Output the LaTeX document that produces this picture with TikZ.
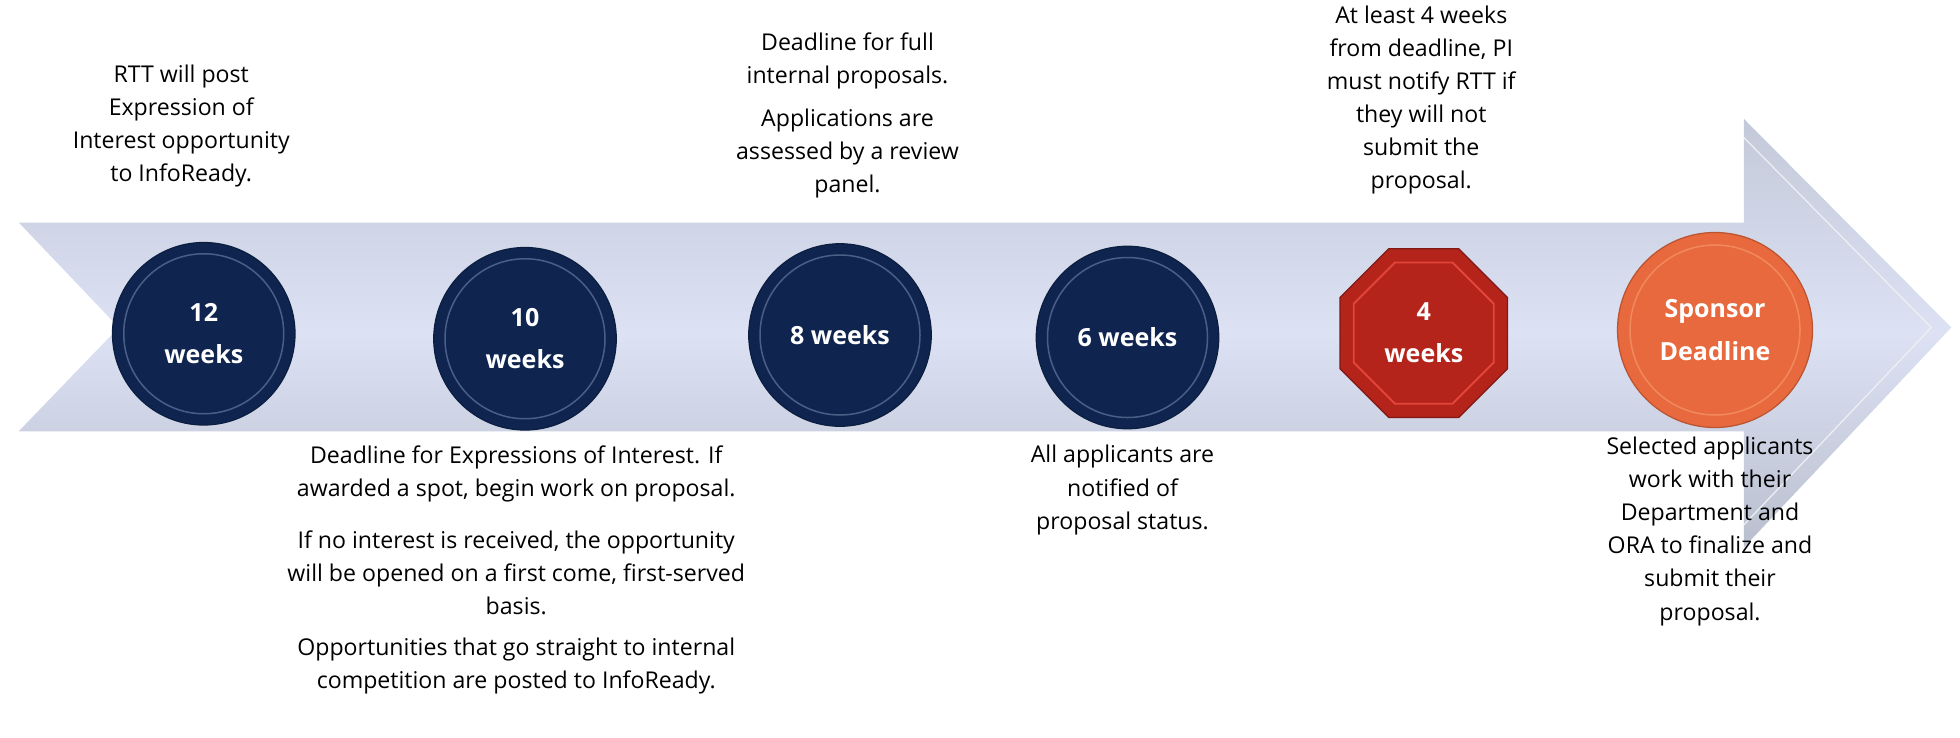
\documentclass[tikz,border=0pt]{standalone}
\usepackage{fontspec}
\setmainfont{Open Sans}
\usetikzlibrary{shapes.geometric}
\definecolor{navy}{HTML}{0F2550}
\definecolor{navyrim}{HTML}{4A5F85}
\definecolor{stopred}{HTML}{B5241B}
\definecolor{stoprim}{HTML}{E2453A}
\definecolor{orng}{HTML}{E8693D}
\definecolor{orngrim}{HTML}{F08A5E}
\definecolor{bandA}{HTML}{C3C9D8}
\definecolor{bandB}{HTML}{DCE2F4}
\begin{document}
\begin{tikzpicture}[x=1pt,y=-1pt,
  txt/.style={align=center,font=\fontsize{18.5}{26.5}\selectfont,inner sep=0pt},
  lbl/.style={align=center,text=white,font=\bfseries\fontsize{20}{34}\selectfont},
  ball/.style={circle,fill=navy,draw=navy!80!black,line width=1pt,minimum size=146pt},
  rim/.style={draw=navyrim,line width=1.2pt}]
\useasboundingbox (0,0) rectangle (1568,590);
% arrow band
\shade[top color=bandA,bottom color=bandA!95!black,middle color=bandB]
  (15,178) -- (1395,178) -- (1395,95) -- (1561,262) -- (1395,438) -- (1395,345) -- (15,345) -- (95,262) -- cycle;
\draw[white!70!bandA,line width=1pt] (1395,110) -- (1545,262) -- (1395,420);
% circles
\node[ball] (w12) at (163,267) {};
\draw[rim] (163,267) circle (64);
\node[lbl] at (w12) {12\\weeks};
\node[ball] (w10) at (420,271) {};
\draw[rim] (420,271) circle (64);
\node[lbl] at (w10) {10\\weeks};
\node[ball] (w8) at (672,268) {};
\draw[rim] (672,268) circle (64);
\node[lbl] at (w8) {8 weeks};
\node[ball] (w6) at (902,270) {};
\draw[rim] (902,270) circle (64);
\node[lbl] at (w6) {6 weeks};
% octagon
\fill[stopred,draw=stopred!70!black,line width=1pt]
  (1111,199) -- (1167,199) -- (1206,238) -- (1206,295) -- (1167,334) -- (1111,334) -- (1072,295) -- (1072,238) -- cycle;
\draw[stoprim,line width=1.5pt]
  (1116,210) -- (1162,210) -- (1195,243) -- (1195,290) -- (1162,323) -- (1116,323) -- (1083,290) -- (1083,243) -- cycle;
\node[lbl] (w4) at (1139,266) {4\\weeks};
% orange
\node[circle,fill=orng,draw=orng!80!black,line width=1pt,minimum size=156pt] (sd) at (1372,264) {};
\draw[orngrim,line width=1.2pt] (1372,264) circle (68);
\node[lbl] at (sd) {Sponsor\\Deadline};
% texts
\node[txt] (t1) at (145,101) {RTT will post\\Expression of\\Interest opportunity\\to InfoReady.};
\node[txt] (t2) at (678,49) {Deadline for full\\internal proposals.};
\node[txt] (t3) at (678,123) {Applications are\\assessed by a review\\panel.};
\node[txt] (t4) at (1137,80) {At least 4 weeks\\from deadline, PI\\must notify RTT if\\they will not\\submit the\\proposal.};
\node[txt] (t5) at (413,379) {Deadline for Expressions of Interest. If\\awarded a spot, begin work on proposal.};
\node[txt] (t6) at (413,458) {If no interest is received, the opportunity\\will be opened on a first come, first-served\\basis.};
\node[txt] (t7) at (413,533) {Opportunities that go straight to internal\\competition are posted to InfoReady.};
\node[txt] (t8) at (898,392) {All applicants are\\notified of\\proposal status.};
\node[txt] (t9) at (1368,425) {Selected applicants\\work with their\\Department and\\ORA to finalize and\\submit their\\proposal.};
\end{tikzpicture}
\end{document}
